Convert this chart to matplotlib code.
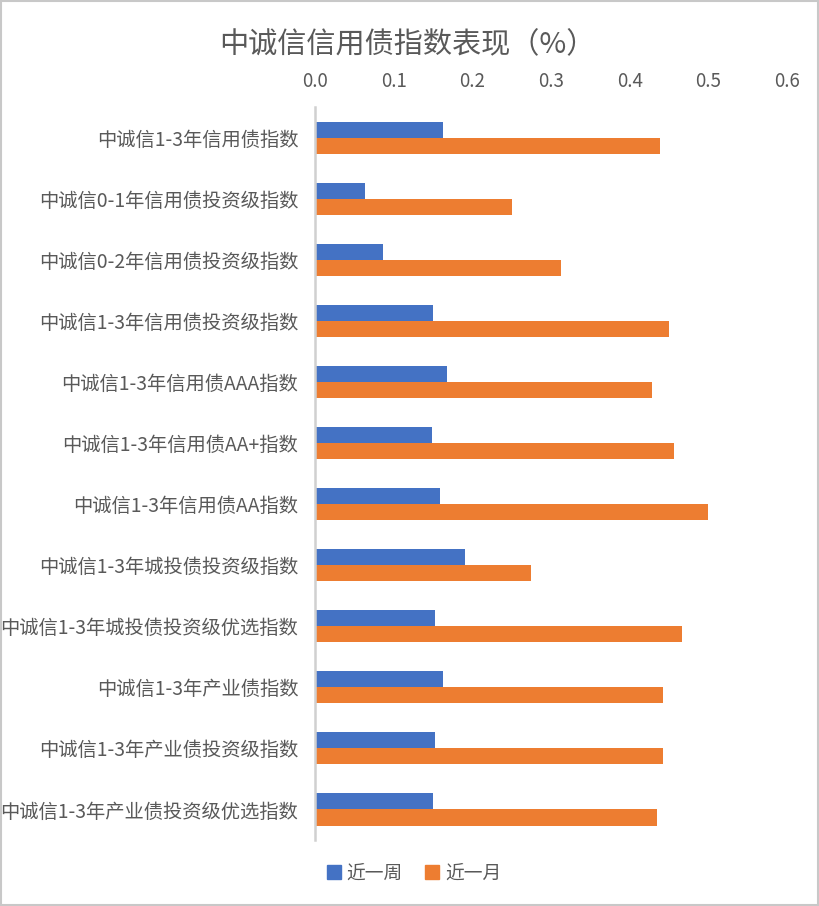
import numpy as np
import matplotlib
matplotlib.use('Agg')
import matplotlib.pyplot as plt
from matplotlib.patches import Rectangle, Patch

plt.rcParams['font.family'] = ['Noto Sans CJK SC', 'DejaVu Sans']

# data
categories = ['中诚信1-3年信用债指数', '中诚信0-1年信用债投资级指数', '中诚信0-2年信用债投资级指数',
              '中诚信1-3年信用债投资级指数', '中诚信1-3年信用债AAA指数', '中诚信1-3年信用债AA+指数',
              '中诚信1-3年信用债AA指数', '中诚信1-3年城投债投资级指数', '中诚信1-3年城投债投资级优选指数',
              '中诚信1-3年产业债指数', '中诚信1-3年产业债投资级指数', '中诚信1-3年产业债投资级优选指数']
week = [0.163, 0.064, 0.086, 0.150, 0.168, 0.149, 0.159, 0.191, 0.152, 0.163, 0.153, 0.150]
month = [0.438, 0.251, 0.313, 0.450, 0.428, 0.457, 0.500, 0.275, 0.466, 0.443, 0.443, 0.435]
series_names = ['近一周', '近一月']
xticks = [0.0, 0.1, 0.2, 0.3, 0.4, 0.5, 0.6]

blue = '#4472C4'
orange = '#ED7D31'
grey = '#595959'

fig = plt.figure(figsize=(8.19, 9.06), dpi=100)
ax = fig.add_axes([0.3846, 0.0728, 0.5763, 0.8091])

y = np.arange(len(categories))
h = 0.262
ax.barh(y - h / 2, week, height=h, color=blue)
ax.barh(y + h / 2, month, height=h, color=orange)

ax.set_xlim(0, 0.6)
ax.set_ylim(len(categories) - 0.5, -0.5)
ax.set_xticks(xticks)
ax.set_xticklabels(['%.1f' % v for v in xticks])
ax.xaxis.tick_top()
ax.tick_params(axis='x', length=0, pad=11, labelsize=13.5, labelcolor=grey)
ax.set_yticks(y)
ax.set_yticklabels(categories)
ax.tick_params(axis='y', length=0, pad=12, labelsize=13.9, labelcolor=grey)

for s in ['top', 'right', 'bottom']:
    ax.spines[s].set_visible(False)
ax.spines['left'].set_color('#d0d0d0')
ax.spines['left'].set_linewidth(1.8)

fig.text(0.498, 1 - 45 / 906, '中诚信信用债指数表现（%）', ha='center', va='center',
         fontsize=21, color=grey)

handles = [Patch(color=blue), Patch(color=orange)]
fig.legend(handles, series_names, loc='center', bbox_to_anchor=(414 / 819, 1 - 873 / 906),
           ncol=2, frameon=False, fontsize=13.5, labelcolor=grey,
           handlelength=0.75, handleheight=0.75, handletextpad=0.3, columnspacing=1.2)

fig.patches.append(Rectangle((0.001, 0.001), 0.998, 0.998, transform=fig.transFigure,
                             fill=False, edgecolor='#c8c8c8', linewidth=1.5))

fig.savefig('out.png', dpi=100)
